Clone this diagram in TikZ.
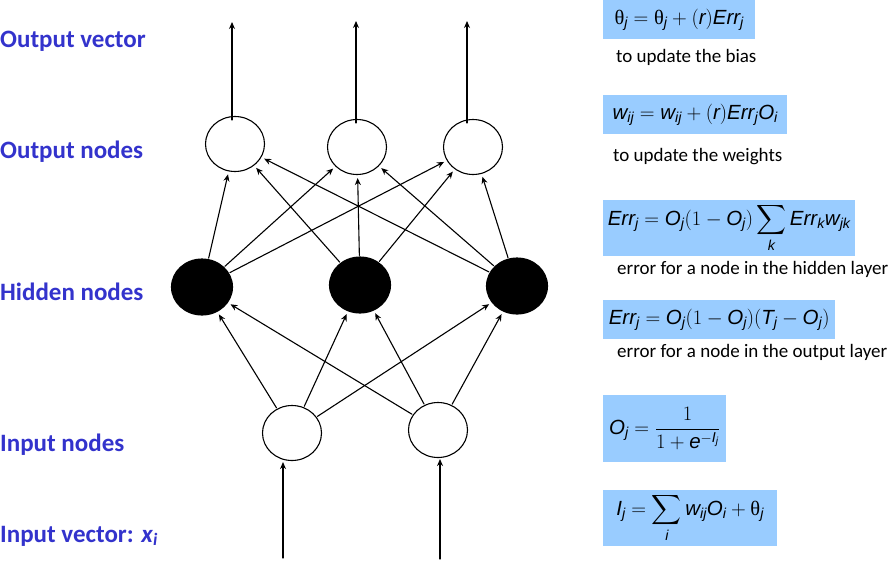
\RequirePackage{fix-cm}
\documentclass[tikz,border=0pt]{standalone}
\usepackage{amsmath}
\usepackage{fontspec}
\setmainfont{Carlito}
\newfontfamily\eqsans{Liberation Sans}
\newfontfamily\eqserif{Liberation Serif}
\usepackage{tikz}
\usetikzlibrary{arrows.meta, shapes.geometric, calc}
\definecolor{labelblue}{RGB}{51,51,204}
\definecolor{eqblue}{RGB}{153,204,255}
\newcommand{\ev}[1]{\text{\eqsans\itshape #1}}
\newcommand{\sth}{\text{\eqserif θ}}

\begin{document}
\begin{tikzpicture}[x=1pt, y=-1pt, line cap=round,
	layer/.style={font=\fontsize{25}{30}\selectfont\bfseries, text=labelblue, anchor=base west, inner sep=0pt},
	unit/.style={ellipse, draw, line width=1.1pt, minimum width=59pt, minimum height=55pt, inner sep=0pt, fill=white},
	hidunit/.style={unit, fill=black, minimum width=61pt, minimum height=56pt},
	eqbox/.style={fill=eqblue, anchor=north west, inner sep=0pt, font=\fontsize{20.5}{24}\selectfont},
	note/.style={font=\fontsize{19}{23}\selectfont, anchor=base west, inner sep=0pt},
	link/.style={line width=1.1pt, -{Stealth[length=7pt, width=6pt]}, shorten >=3pt, shorten <=1pt}
	]
	\useasboundingbox (0,0) rectangle (894,563);

	% layer names
	\node[layer] (lov) at (0,47) {Output vector};
	\node[layer] (lon) at (0,158) {Output nodes};
	\node[layer] (lhn) at (0,300) {Hidden nodes};
	\node[layer] (lin) at (0,451) {Input nodes};
	\node[layer] (liv) at (0,542) {Input vector: \textit{x}\textsubscript{\textit{i}}};

	% network
	\node[unit] (o1) at (235,144) {};
	\node[unit] (o2) at (357,147) {};
	\node[unit] (o3) at (473,147) {};
	\node[hidunit] (h1) at (202,287) {};
	\node[hidunit] (h2) at (360,285) {};
	\node[hidunit] (h3) at (517,286) {};
	\node[unit] (i1) at (292,433) {};
	\node[unit] (i2) at (438,430) {};

	\coordinate (y1) at (232,22);
	\coordinate (y2) at (356,21);
	\coordinate (y3) at (467,21);
	\coordinate (x1) at (283,558);
	\coordinate (x2) at (440,559);

	\foreach \o/\y in {o1/y1, o2/y2, o3/y3}
		\draw[link, shorten <=-4pt, shorten >=0pt] (\o.north -| \y) -- (\y);
	\foreach \x/\i in {x1/i1, x2/i2}
		\draw[link, shorten >=1pt, shorten <=0pt] (\x) -- (\x |- \i.south);

	\foreach \h in {h1, h2, h3}
		\foreach \o in {o1, o2, o3}
			\draw[link] (\h) -- (\o);
	\foreach \i in {i1, i2}
		\foreach \h in {h1, h2, h3}
			\draw[link] (\i) -- (\h);

	% formulas
	\node[eqbox, minimum width=152pt, minimum height=39pt] (eq1) at (603,0)
		{$\sth_{\ev{j}} = \sth_{\ev{j}} + (\ev{r})\ev{Err}_{\ev{j}}$};
	\node[note] (n1) at (616,62.7) {to update the bias};
	\node[eqbox, minimum width=184pt, minimum height=39pt] (eq2) at (603,95)
		{$\ev{w}_{\ev{ij}} = \ev{w}_{\ev{ij}} + (\ev{r})\ev{Err}_{\ev{j}}\ev{O}_{\ev{i}}$};
	\node[note] (n2) at (613,161) {to update the weights};
	\node[eqbox, minimum width=252pt, minimum height=56pt] (eq3) at (603,200)
		{$\ev{Err}_{\ev{j}} = \ev{O}_{\ev{j}}(1-\ev{O}_{\ev{j}})\displaystyle\sum_{\ev{k}}\ev{Err}_{\ev{k}}\ev{w}_{\ev{jk}}$};
	\node[note] (n3) at (617,274) {error for a node in the hidden layer};
	\node[eqbox, minimum width=232pt, minimum height=39pt] (eq4) at (603,300)
		{$\ev{Err}_{\ev{j}} = \ev{O}_{\ev{j}}(1-\ev{O}_{\ev{j}})(\ev{T}_{\ev{j}}-\ev{O}_{\ev{j}})$};
	\node[note] (n4) at (617,357) {error for a node in the output layer};
	\node[eqbox, minimum width=123pt, minimum height=67pt] (eq5) at (603,395)
		{$\ev{O}_{\ev{j}} = \dfrac{1}{1+\ev{e}^{-\ev{I}_{\ev{j}}}}$};
	\node[eqbox, minimum width=174pt, minimum height=56pt] (eq6) at (603,490)
		{$\ev{I}_{\ev{j}} = \displaystyle\sum_{\ev{i}}\ev{w}_{\ev{ij}}\ev{O}_{\ev{i}} + \sth_{\ev{j}}$};

\end{tikzpicture}
\end{document}
